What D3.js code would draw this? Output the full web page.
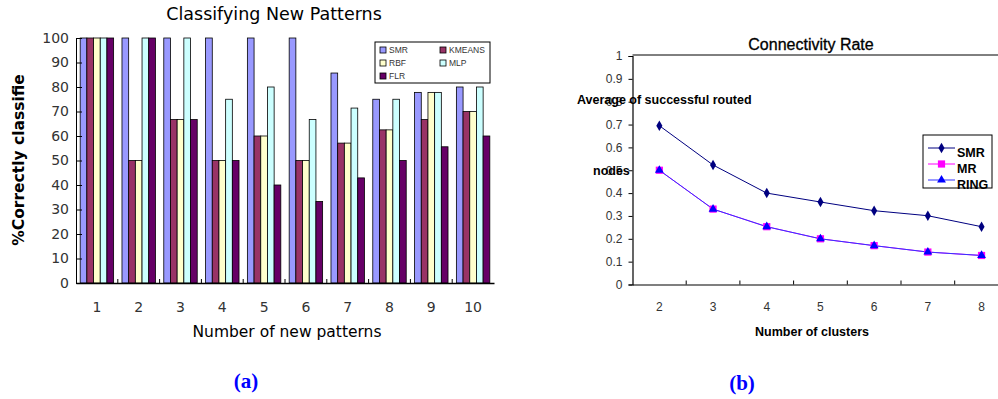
<!DOCTYPE html>
<html><head><meta charset="utf-8">
<script src="https://cdn.jsdelivr.net/npm/d3@7"></script>
<style>body{margin:0;background:#fff}svg{display:block}</style>
</head><body>
<svg id="c" width="998" height="399"></svg>
<script>
// ---- Chart (a) data ----
const patterns = ["1","2","3","4","5","6","7","8","9","10"];
const seriesA = ["SMR","KMEANS","RBF","MLP","FLR"];
const smr    = [100,100,100,100,100,100,85.7,75,77.8,80];
const kmeans = [100,50,66.7,50,60,50,57.1,62.5,66.7,70];
const rbf    = [100,50,66.7,50,60,50,57.1,62.5,77.8,70];
const mlp    = [100,100,100,75,80,66.7,71.4,75,77.8,80];
const flr    = [100,100,66.7,50,40,33.3,42.9,50,55.6,60];
const yTicksA = [0,10,20,30,40,50,60,70,80,90,100];
const colorsA = ["#9999ff","#993366","#ffffcc","#ccffff","#660066"];

// ---- Chart (b) data ----
const clusters = [2,3,4,5,6,7,8];
const seriesB = ["SMR","MR","RING"];
const smrB  = [0.695,0.523,0.40,0.361,0.323,0.301,0.253];
const mrB   = [0.5,0.33,0.253,0.2,0.17,0.142,0.127];
const ringB = [0.5,0.33,0.253,0.2,0.17,0.142,0.127];
const yTicksB = [0,0.1,0.2,0.3,0.4,0.5,0.6,0.7,0.8,0.9,1];
const colorsB = ["#000080","#ff00ff","#0000ff"];

const svg = d3.select("#c");

// ================= Chart (a) =================
{
  const fontA = "'DejaVu Sans', sans-serif";
  const g = svg.append("g");
  const L = 76, R = 494, T = 38, B = 283;
  const x = d3.scaleBand().domain(patterns).range([L, R]);
  const xs = d3.scaleBand().domain(seriesA).range([x.bandwidth()*0.1, x.bandwidth()*0.9]);
  const y = d3.scaleLinear().domain([0,100]).range([B, T]);
  const vals = [smr,kmeans,rbf,mlp,flr];

  // bars
  seriesA.forEach((s, si) => {
    g.append("g").selectAll("rect").data(patterns).join("rect")
      .attr("x", d => x(d) + xs(s))
      .attr("y", (d,i) => y(vals[si][i]))
      .attr("width", xs.bandwidth())
      .attr("height", (d,i) => y(0) - y(vals[si][i]))
      .attr("fill", colorsA[si])
      .attr("stroke", "#000").attr("stroke-width", 0.8);
  });

  // y axis
  const ya = d3.axisLeft(y).tickValues(yTicksA).tickSize(-6).tickPadding(7);
  const yg = g.append("g").attr("transform", `translate(${L},0)`).call(ya);
  yg.select(".domain").attr("stroke","#000");
  yg.selectAll(".tick line").attr("stroke","#000");
  yg.selectAll("text").attr("font-family", fontA).attr("font-size", 14).attr("fill","#333");

  // x axis
  const xa = d3.axisBottom(x).tickSize(0).tickPadding(19);
  const xg = g.append("g").attr("transform", `translate(0,${B})`).call(xa);
  xg.select(".domain").attr("stroke","#000").attr("stroke-width",1.3);
  xg.selectAll("text").attr("font-family", fontA).attr("font-size", 14).attr("fill","#333");
  // boundary ticks (upward)
  g.append("g").selectAll("line").data(patterns.slice(1)).join("line")
    .attr("x1", d => x(d)).attr("x2", d => x(d))
    .attr("y1", B).attr("y2", B-4).attr("stroke","#000");

  // title & labels
  g.append("text").attr("x", 274).attr("y", 20).attr("text-anchor","middle")
    .attr("font-family", fontA).attr("font-size", 17.5).attr("fill","#000")
    .text("Classifying New Patterns");
  g.append("text").attr("transform","translate(24,160) rotate(-90)").attr("text-anchor","middle")
    .attr("font-family", fontA).attr("font-size", 15.5).attr("font-weight","bold").attr("fill","#000")
    .text("%Correctly classifie");
  g.append("text").attr("x", 287).attr("y", 337).attr("text-anchor","middle")
    .attr("font-family", fontA).attr("font-size", 15.5).attr("fill","#000")
    .text("Number of new patterns");

  // legend
  const lg = g.append("g");
  lg.append("rect").attr("x",375).attr("y",42).attr("width",115).attr("height",41)
    .attr("fill","#fff").attr("stroke","#000");
  const pos = [[383,50],[443,50],[383,63],[443,63],[383,76]];
  seriesA.forEach((s, i) => {
    lg.append("rect").attr("x", pos[i][0]-3).attr("y", pos[i][1]-3).attr("width",6).attr("height",6)
      .attr("fill", colorsA[i]).attr("stroke","#000").attr("stroke-width",0.8);
    lg.append("text").attr("x", pos[i][0]+6).attr("y", pos[i][1]+3.2)
      .attr("font-family", "'Liberation Sans', Arial, sans-serif").attr("font-size", 8.5).attr("fill","#333").text(s);
  });
}

// ================= Chart (b) =================
{
  const fontB = "'Liberation Sans', Arial, sans-serif";
  const g = svg.append("g");
  const L = 632.5, T = 55, B = 284.5;
  const x = d3.scaleBand().domain(clusters).range([L, L + 7*53.7]);
  const y = d3.scaleLinear().domain([0,1]).range([B, 56]);

  // top border
  g.append("line").attr("x1", L).attr("x2", 998).attr("y1", T).attr("y2", T).attr("stroke","#000");

  const ya = d3.axisLeft(y).tickValues(yTicksB).tickSize(4).tickPadding(6).tickFormat(d3.format("~g"));
  const yg = g.append("g").attr("transform", `translate(${L},0)`).call(ya);
  yg.select(".domain").attr("stroke","#000").attr("stroke-width",1.2);
  yg.selectAll("text").attr("font-family", fontB).attr("font-size", 12).attr("fill","#333");

  const xa = d3.axisBottom(x).tickSize(0).tickPadding(18);
  const xg = g.append("g").attr("transform", `translate(0,${B})`).call(xa);
  xg.select(".domain").attr("stroke","#000").attr("stroke-width",1.2);
  xg.selectAll("text").attr("font-family", fontB).attr("font-size", 12).attr("fill","#333");
  g.append("g").selectAll("line").data(clusters.slice(1)).join("line")
    .attr("x1", d => x(d)).attr("x2", d => x(d))
    .attr("y1", B).attr("y2", B-4).attr("stroke","#000");

  const cx = d => x(d) + x.bandwidth()/2;
  const line = d3.line().x((d,i) => cx(clusters[i])).y(d => y(d));
  const data = [smrB, mrB, ringB];
  const syms = [d3.symbolDiamond, d3.symbolSquare, d3.symbolTriangle];
  const sizes = [32, 52, 34];
  const lineCols = ["#000080","#ff00ff","#3333ff"];
  data.forEach((vals, si) => {
    g.append("path").datum(vals).attr("d", line).attr("fill","none")
      .attr("stroke", lineCols[si]).attr("stroke-width", 1);
  });
  data.forEach((vals, si) => {
    g.append("g").selectAll("path").data(vals).join("path")
      .attr("transform", (d,i) => `translate(${cx(clusters[i])},${y(d)})`)
      .attr("d", d3.symbol().type(syms[si]).size(sizes[si]))
      .attr("fill", colorsB[si]);
  });

  // titles
  g.append("text").attr("x", 811).attr("y", 50).attr("text-anchor","middle")
    .attr("font-family", fontB).attr("font-size", 16).attr("fill","#000")
    .attr("stroke","#000").attr("stroke-width",0.3)
    .text("Connectivity Rate");
  g.append("text").attr("x", 577).attr("y", 104)
    .attr("font-family", fontB).attr("font-size", 12.5).attr("font-weight","bold").attr("fill","#000")
    .text("Average of successful routed");
  g.append("text").attr("x", 593).attr("y", 175)
    .attr("font-family", fontB).attr("font-size", 12.5).attr("font-weight","bold").attr("fill","#000")
    .text("nodes");
  g.append("text").attr("x", 812).attr("y", 336).attr("text-anchor","middle")
    .attr("font-family", fontB).attr("font-size", 12.5).attr("font-weight","bold").attr("fill","#000")
    .text("Number of clusters");

  // legend
  const lg = g.append("g");
  lg.append("rect").attr("x",923).attr("y",135).attr("width",69).attr("height",53)
    .attr("fill","#fff").attr("stroke","#000");
  const ly = [148, 164, 180];
  seriesB.forEach((s, i) => {
    lg.append("line").attr("x1",928).attr("x2",955).attr("y1",ly[i]).attr("y2",ly[i])
      .attr("stroke", lineCols[i]);
    lg.append("path").attr("transform",`translate(941.5,${ly[i]})`)
      .attr("d", d3.symbol().type(syms[i]).size(sizes[i])).attr("fill", colorsB[i]);
    lg.append("text").attr("x",957).attr("y",ly[i]+9)
      .attr("font-family", fontB).attr("font-size", 12.5).attr("font-weight","bold").attr("fill","#000").text(s);
  });
}

// captions
svg.append("text").attr("x", 246).attr("y", 388).attr("text-anchor","middle")
  .attr("font-family","'Liberation Serif', 'Times New Roman', serif").attr("font-size", 21)
  .attr("font-weight","bold").attr("fill","#0000ff").text("(a)");
svg.append("text").attr("x", 742).attr("y", 390).attr("text-anchor","middle")
  .attr("font-family","'Liberation Serif', 'Times New Roman', serif").attr("font-size", 21)
  .attr("font-weight","bold").attr("fill","#0000ff").text("(b)");
</script>
</body></html>
